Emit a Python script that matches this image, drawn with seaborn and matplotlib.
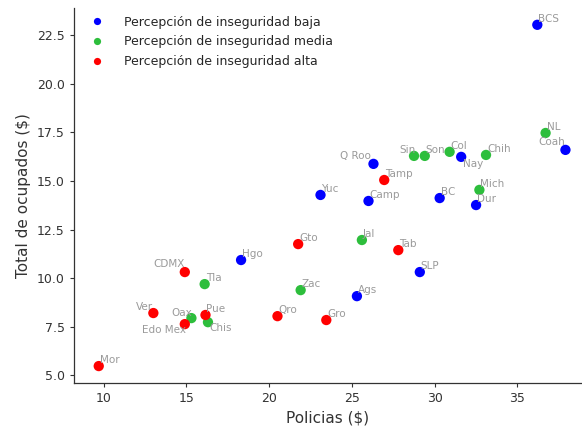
import matplotlib
matplotlib.use("Agg")
import matplotlib.pyplot as plt
import seaborn as sns
import pandas as pd

estados = ["BCS", "Coah", "Q Roo", "Nay", "Yuc", "Camp", "BC", "Dur", "Hgo", "SLP", "Ags",
           "NL", "Sin", "Son", "Col", "Chih", "Mich", "Jal", "Tla", "Zac", "Oax", "Chis",
           "Tamp", "Gto", "Tab", "CDMX", "Ver", "Pue", "Edo Mex", "Qro", "Gro", "Mor"]
policias = [36.2, 37.9, 26.3, 31.6, 23.1, 26.0, 30.3, 32.5, 18.3, 29.1, 25.3,
            36.7, 28.75, 29.4, 30.9, 33.1, 32.7, 25.6, 16.1, 21.9, 15.3, 16.3,
            26.95, 21.75, 27.8, 14.9, 13.0, 16.15, 14.9, 20.5, 23.45, 9.7]
ocupados = [23.04, 16.6, 15.88, 16.24, 14.28, 13.97, 14.12, 13.76, 10.93, 10.31, 9.07,
            17.47, 16.29, 16.29, 16.5, 16.34, 14.54, 11.96, 9.69, 9.38, 7.94, 7.73,
            15.05, 11.75, 11.44, 10.31, 8.2, 8.1, 7.63, 8.04, 7.84, 5.47]
percepcion = (["Percepción de inseguridad baja"] * 11
              + ["Percepción de inseguridad media"] * 11
              + ["Percepción de inseguridad alta"] * 10)
niveles = ["Percepción de inseguridad baja", "Percepción de inseguridad media",
           "Percepción de inseguridad alta"]
colores = ["#0000ff", "#2dbe3c", "#ff0000"]

df = pd.DataFrame({"estado": estados, "Policias": policias,
                   "Ocupados": ocupados, "Percepcion": percepcion})

sns.set_style("white")
plt.rcParams["font.family"] = ["DejaVu Sans"]

fig = plt.figure(figsize=(5.82, 4.26), dpi=100)
ax = fig.add_axes([0.127, 0.101, 0.873, 0.880])

sns.scatterplot(data=df, x="Policias", y="Ocupados", hue="Percepcion",
                hue_order=niveles, palette=colores, s=55, linewidth=0, ax=ax)

# label offsets in pixels (default: slightly up-right)
offsets = {
    "Q Roo": (-33, 3, "left", "bottom"),
    "Sin": (-15, 1, "left", "bottom"),
    "Coah": (-27, 3, "left", "bottom"),
    "Nay": (2, -2, "left", "top"),
    "Edo Mex": (-43, -1, "left", "top"),
    "Ver": (-17, 1, "left", "bottom"),
    "CDMX": (-31, 3, "left", "bottom"),
    "Oax": (-20, 0, "left", "bottom"),
    "Chis": (1, -1, "left", "top"),
}
for est, x, y in zip(estados, policias, ocupados):
    dx, dy, ha, va = offsets.get(est, (1, 1, "left", "bottom"))
    ax.annotate(est, (x, y), xytext=(dx, dy), textcoords="offset pixels",
                ha=ha, va=va, fontsize=7.5, color="#9a9a9a")

ax.set_xlim(8.2, 38.9)
ax.set_ylim(4.6, 23.9)
ax.set_xticks([10, 15, 20, 25, 30, 35])
ax.set_yticks([5.0, 7.5, 10.0, 12.5, 15.0, 17.5, 20.0, 22.5])
ax.set_yticklabels(["5.0", "7.5", "10.0", "12.5", "15.0", "17.5", "20.0", "22.5"])
ax.tick_params(axis="both", labelsize=9, colors="#333333", length=3, width=0.8,
               direction="out", bottom=True, left=True)
ax.set_xlabel("Policias ($)", fontsize=11, color="#333333")
ax.set_ylabel("Total de ocupados ($)", fontsize=11, color="#333333")
for s in ["top", "right"]:
    ax.spines[s].set_visible(False)
for s in ["left", "bottom"]:
    ax.spines[s].set_color("#333333")
    ax.spines[s].set_linewidth(0.9)

ax.legend(loc="upper left", bbox_to_anchor=(-0.002, 1.01), frameon=False,
          fontsize=9, markerscale=0.7, handletextpad=1.15, labelspacing=0.55,
          title=None)

fig.savefig("out.png", dpi=100)
